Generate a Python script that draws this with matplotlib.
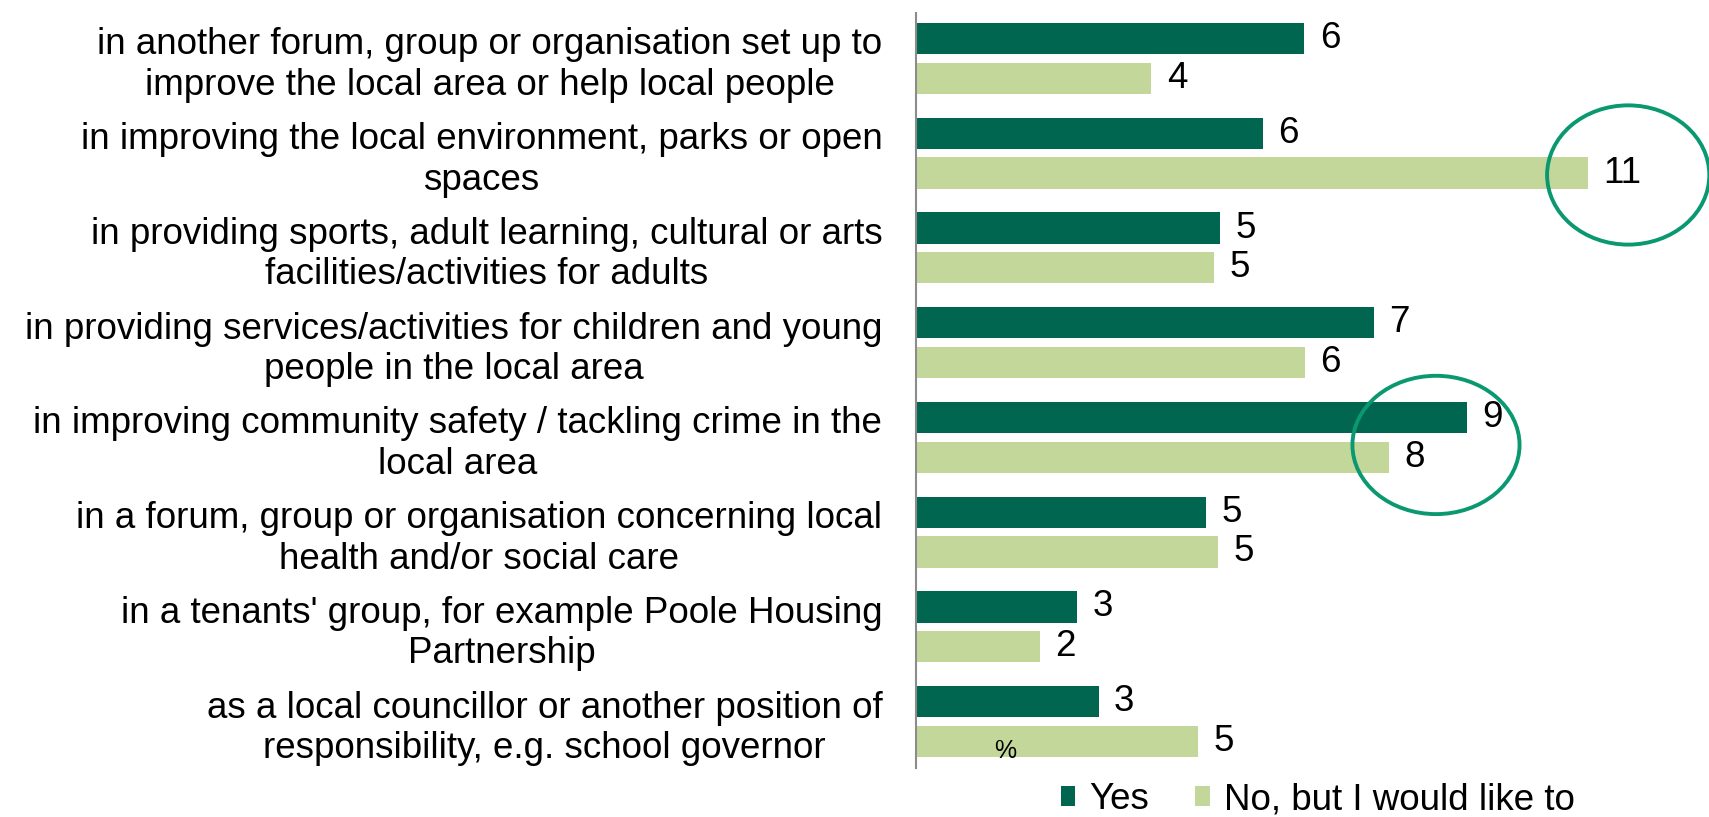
import matplotlib.pyplot as plt
from matplotlib.patches import Ellipse
import numpy as np

plt.rcParams['font.family'] = ['Liberation Sans', 'DejaVu Sans']

categories = [
    'in another forum, group or organisation set up to\nimprove the local area or help local people',
    'in improving the local environment, parks or open\nspaces',
    'in providing sports, adult learning, cultural or arts\nfacilities/activities for adults',
    'in providing services/activities for children and young\npeople in the local area',
    'in improving community safety / tackling crime in the\nlocal area',
    'in a forum, group or organisation concerning local\nhealth and/or social care',
    "in a tenants' group, for example Poole Housing\nPartnership",
    'as a local councillor or another position of\nresponsibility, e.g. school governor',
]
# percentages (labels shown rounded)
yes_vals = [6.35, 5.67, 4.97, 7.48, 9.01, 4.74, 2.64, 2.99]
no_vals = [3.85, 10.99, 4.87, 6.36, 7.74, 4.94, 2.03, 4.62]
series_names = ['Yes', 'No, but I would like to']

dark = '#00664F'
light = '#C4D79B'
ring = '#0A9870'

fig = plt.figure(figsize=(17.09, 8.17), dpi=100)
ax = fig.add_axes([0.5358, 0.060, 0.4642, 0.9241])

y = np.arange(len(categories))
h = 0.33
b1 = ax.barh(y - 0.21, yes_vals, height=h, color=dark, label=series_names[0])
b2 = ax.barh(y + 0.21, no_vals, height=h, color=light, label=series_names[1])

for bars in (b1, b2):
    for rect in bars:
        w = rect.get_width()
        ax.text(w + 0.25, rect.get_y() + rect.get_height() / 2, '%.0f' % w,
                va='center', ha='left', fontsize=26.5)

ax.set_xlim(0, 12.96)
ax.set_ylim(7.49, -0.48)
ax.set_yticks(y)
ax.set_yticklabels(categories, fontsize=26.5, multialignment='center',
                   linespacing=1.2)
ax.tick_params(axis='y', length=0, pad=24)
ax.set_xticks([])
for s in ['top', 'right', 'bottom']:
    ax.spines[s].set_visible(False)
ax.spines['left'].set_color('#8C8C8C')
ax.spines['left'].set_linewidth(1.5)

ax.text(1.46, 7.31, '%', fontsize=18, ha='center', va='center')

# highlight rings
ax.add_patch(Ellipse((11.64, 1.23), 2.65, 1.47, fill=False, edgecolor=ring,
                     linewidth=2.8, clip_on=False))
ax.add_patch(Ellipse((8.5, 4.08), 2.73, 1.46, fill=False, edgecolor=ring,
                     linewidth=2.8, clip_on=False))

fig.legend(handles=[b1, b2], loc='center', bbox_to_anchor=(0.771, 0.021),
           ncol=2, frameon=False, fontsize=26.5, handlelength=0.4,
           handleheight=0.45, handletextpad=0.38, columnspacing=1.25,
           borderaxespad=0, borderpad=0)

fig.savefig('out.png', dpi=100)
